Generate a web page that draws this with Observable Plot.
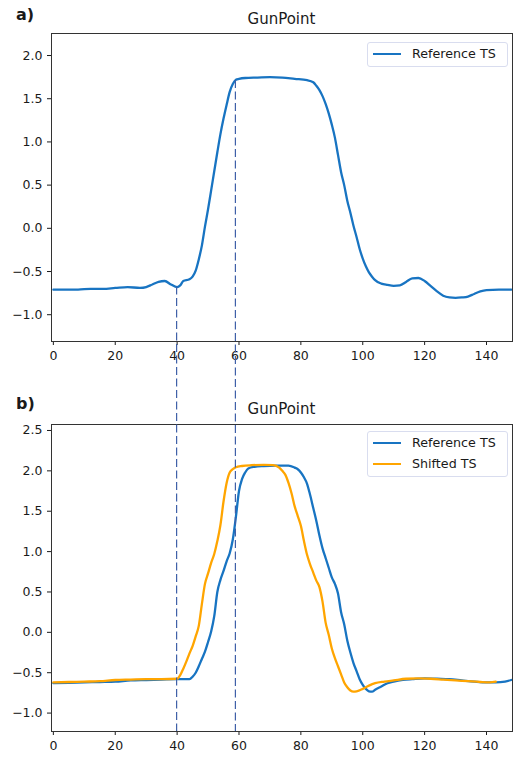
<!DOCTYPE html>
<html>
<head>
<meta charset="utf-8">
<script src="https://cdn.jsdelivr.net/npm/d3@7"></script>
<script src="https://cdn.jsdelivr.net/npm/@observablehq/plot@0.6"></script>
<style>
  html, body { margin: 0; padding: 0; background: #fff; }
  #wrap { position: relative; width: 513px; height: 758px; overflow: hidden; font-family: "DejaVu Sans", sans-serif; color: #1a1a1a; }
  .abs { position: absolute; }
  .panel-label { font-weight: bold; font-size: 16px; line-height: 16px; }
  .title { font-size: 15px; line-height: 15px; width: 461px; left: 51px; text-align: center; }
  .legend { border: 1px solid #d9ddef; border-radius: 3px; background: rgba(255,255,255,0.85); box-sizing: border-box; }
  .leg-row { position: absolute; left: 0; height: 20px; font-size: 12.7px; line-height: 20px; white-space: nowrap; }
  .leg-line { position: absolute; left: 5px; width: 28px; height: 2.2px; top: 9px; }
  .leg-text { position: absolute; left: 44px; top: 0; }
</style>
</head>
<body>
<div id="wrap"></div>
<script>
// ---------- data ----------
const title = "GunPoint";
const panelLabels = ["a)", "b)"];
const seriesNames = ["Reference TS", "Shifted TS"];
const seriesColors = ["#1874c2", "#ffa500"];
const guideColor = "#3f60a8";

const xTicks = [0, 20, 40, 60, 80, 100, 120, 140];
const yTicksA = [-1.0, -0.5, 0.0, 0.5, 1.0, 1.5, 2.0];
const yTicksB = [-1.0, -0.5, 0.0, 0.5, 1.0, 1.5, 2.0, 2.5];
const xDomain = [-0.6, 148.4];
const yDomainA = [-1.31, 2.255];
const yDomainB = [-1.228, 2.574];

// vertical guides (time index) and where they start on panel a's curve
const guideX = [40, 59];
const guideStartA = [-0.68, 1.71];

// panel a: reference time series
const refAx = [0, 4, 8, 12, 16, 20, 24, 28, 30, 32, 34, 36, 38, 40, 41, 42, 44, 45, 46, 47, 48, 49, 50, 51, 52, 53, 54, 55, 56, 57, 58, 59, 60, 62, 66, 70, 74, 78, 82, 84, 85, 86, 87, 88, 89, 90, 91, 92, 93, 94, 95, 96, 97, 98, 99, 100, 101, 102, 103, 104, 106, 108, 110, 112, 114, 116, 118, 120, 122, 124, 126, 128, 130, 132, 134, 136, 138, 140, 144, 148];
const refAy = [-0.71, -0.71, -0.71, -0.70, -0.70, -0.69, -0.68, -0.69, -0.68, -0.65, -0.62, -0.61, -0.65, -0.68, -0.66, -0.61, -0.59, -0.56, -0.49, -0.36, -0.20, 0.02, 0.22, 0.44, 0.66, 0.88, 1.09, 1.27, 1.43, 1.58, 1.67, 1.72, 1.73, 1.74, 1.745, 1.75, 1.745, 1.73, 1.715, 1.69, 1.65, 1.60, 1.53, 1.44, 1.33, 1.20, 1.05, 0.85, 0.65, 0.50, 0.32, 0.18, 0.03, -0.10, -0.24, -0.35, -0.44, -0.51, -0.56, -0.60, -0.64, -0.655, -0.665, -0.66, -0.62, -0.58, -0.575, -0.61, -0.67, -0.73, -0.78, -0.80, -0.805, -0.80, -0.79, -0.76, -0.73, -0.715, -0.71, -0.71];

// panel b: reference time series
const refBx = [0, 5, 10, 15, 20, 25, 30, 35, 40, 44, 45, 46, 47, 48, 49, 50, 51, 52, 53, 54, 55, 56, 57, 58, 59, 60, 61, 62, 63, 65, 68, 72, 76, 78, 79, 80, 81, 82, 83, 84, 85, 86, 87, 88, 89, 90, 91, 92, 93, 94, 95, 96, 97, 98, 99, 100, 101, 102, 103, 104, 106, 108, 110, 113, 116, 120, 124, 128, 132, 136, 140, 143, 146, 148];
const refBy = [-0.63, -0.625, -0.62, -0.615, -0.61, -0.595, -0.59, -0.585, -0.58, -0.58, -0.55, -0.50, -0.42, -0.33, -0.24, -0.12, 0.01, 0.20, 0.50, 0.65, 0.76, 0.88, 0.98, 1.15, 1.43, 1.75, 1.90, 1.98, 2.03, 2.05, 2.06, 2.065, 2.065, 2.04, 2.02, 1.98, 1.92, 1.84, 1.70, 1.54, 1.38, 1.20, 1.04, 0.92, 0.80, 0.68, 0.60, 0.48, 0.25, 0.10, -0.10, -0.25, -0.38, -0.48, -0.58, -0.65, -0.70, -0.73, -0.735, -0.71, -0.67, -0.63, -0.61, -0.59, -0.58, -0.57, -0.575, -0.58, -0.595, -0.61, -0.62, -0.62, -0.61, -0.59];

// panel b: shifted time series
const shiftBx = [0, 5, 10, 15, 20, 25, 30, 35, 40, 41, 42, 43, 44, 45, 46, 47, 48, 49, 50, 51, 52, 53, 54, 55, 56, 57, 58, 59, 61, 64, 68, 71, 73, 74, 75, 76, 77, 78, 79, 80, 81, 82, 83, 84, 85, 86, 87, 88, 89, 90, 91, 92, 93, 94, 95, 96, 97, 98, 100, 102, 104, 107, 110, 114, 118, 122, 126, 130, 134, 138, 141, 143];
const shiftBy = [-0.62, -0.615, -0.61, -0.605, -0.59, -0.585, -0.58, -0.58, -0.575, -0.53, -0.45, -0.36, -0.26, -0.17, -0.05, 0.08, 0.35, 0.60, 0.73, 0.86, 0.97, 1.13, 1.33, 1.62, 1.85, 1.98, 2.02, 2.045, 2.06, 2.07, 2.075, 2.07, 2.04, 2.00, 1.95, 1.85, 1.72, 1.56, 1.44, 1.32, 1.13, 0.96, 0.84, 0.74, 0.64, 0.56, 0.38, 0.12, -0.03, -0.20, -0.32, -0.42, -0.52, -0.62, -0.68, -0.72, -0.735, -0.73, -0.70, -0.66, -0.63, -0.61, -0.595, -0.575, -0.57, -0.575, -0.585, -0.595, -0.605, -0.615, -0.62, -0.61];

// ---------- build ----------
const toRows = (xs, ys) => xs.map((x, i) => ({x, y: ys[i]}));
const refA = toRows(refAx, refAy);
const refB = toRows(refBx, refBy);
const shiftB = toRows(shiftBx, shiftBy);

const W = 513;
const topB = 375;

function panel({height, marginTop, marginBottom, yDomain, yTicks, series}) {
  return Plot.plot({
    width: W,
    height,
    marginTop,
    marginBottom,
    marginLeft: 51,
    marginRight: 1,
    style: {fontFamily: "DejaVu Sans", fontSize: "12.5px", color: "#1a1a1a", background: "transparent", overflow: "visible"},
    x: {domain: xDomain, ticks: xTicks, tickFormat: d3.format("d"), tickSize: 4, tickPadding: 6, label: null},
    y: {domain: yDomain, ticks: yTicks, tickFormat: d3.format(".1f"), tickSize: 4, tickPadding: 5, label: null},
    marks: [
      ...series.map(s => Plot.line(s.data, {x: "x", y: "y", stroke: s.color, strokeWidth: 2.3, curve: "monotone-x"})),
      Plot.frame({stroke: "#333", strokeWidth: 1})
    ]
  });
}

const wrap = document.getElementById("wrap");

const plotA = panel({
  height: 375, marginTop: 33, marginBottom: 34,
  yDomain: yDomainA, yTicks: yTicksA,
  series: [{data: refA, color: seriesColors[0]}]
});
plotA.style.position = "absolute";
plotA.style.left = "0px";
plotA.style.top = "0px";
wrap.appendChild(plotA);

const plotB = panel({
  height: 758 - topB, marginTop: 49, marginBottom: 27,
  yDomain: yDomainB, yTicks: yTicksB,
  series: [{data: refB, color: seriesColors[0]}, {data: shiftB, color: seriesColors[1]}]
});
plotB.style.position = "absolute";
plotB.style.left = "0px";
plotB.style.top = topB + "px";
wrap.appendChild(plotB);

// titles and panel labels
function addDiv(cls, text, left, top) {
  const d = document.createElement("div");
  d.className = "abs " + cls;
  d.textContent = text;
  if (left != null) d.style.left = left + "px";
  d.style.top = top + "px";
  wrap.appendChild(d);
  return d;
}
addDiv("panel-label", panelLabels[0], 16, 7);
addDiv("panel-label", panelLabels[1], 16, 396);
addDiv("title", title, null, 12);
addDiv("title", title, null, 402);

// legends
function legend(left, top, names) {
  const box = document.createElement("div");
  box.className = "abs legend";
  box.style.left = left + "px";
  box.style.top = top + "px";
  box.style.width = "141px";
  box.style.height = (names.length * 21 + 4) + "px";
  names.forEach((n, i) => {
    const row = document.createElement("div");
    row.className = "leg-row";
    row.style.top = (1 + i * 21) + "px";
    const ln = document.createElement("div");
    ln.className = "leg-line";
    ln.style.background = seriesColors[i];
    const tx = document.createElement("div");
    tx.className = "leg-text";
    tx.textContent = n;
    row.appendChild(ln);
    row.appendChild(tx);
    box.appendChild(row);
  });
  wrap.appendChild(box);
}
legend(367, 42, seriesNames.slice(0, 1));
legend(367, 431, seriesNames);

// guide lines spanning both panels, positioned through the plots' scales
const sx = plotA.scale("x");
const syA = plotA.scale("y");
const syB = plotB.scale("y");
const ns = "http://www.w3.org/2000/svg";
const ov = document.createElementNS(ns, "svg");
ov.setAttribute("width", W);
ov.setAttribute("height", 758);
ov.style.position = "absolute";
ov.style.left = "0px";
ov.style.top = "0px";
ov.style.pointerEvents = "none";
guideX.forEach((gx, i) => {
  const l = document.createElementNS(ns, "line");
  const px = sx.apply(gx);
  l.setAttribute("x1", px);
  l.setAttribute("x2", px);
  l.setAttribute("y1", syA.apply(guideStartA[i]));
  l.setAttribute("y2", topB + syB.apply(yDomainB[0]));
  l.setAttribute("stroke", guideColor);
  l.setAttribute("stroke-width", 1.2);
  l.setAttribute("stroke-dasharray", "8,3.5");
  ov.appendChild(l);
});
wrap.appendChild(ov);
</script>
</body>
</html>
